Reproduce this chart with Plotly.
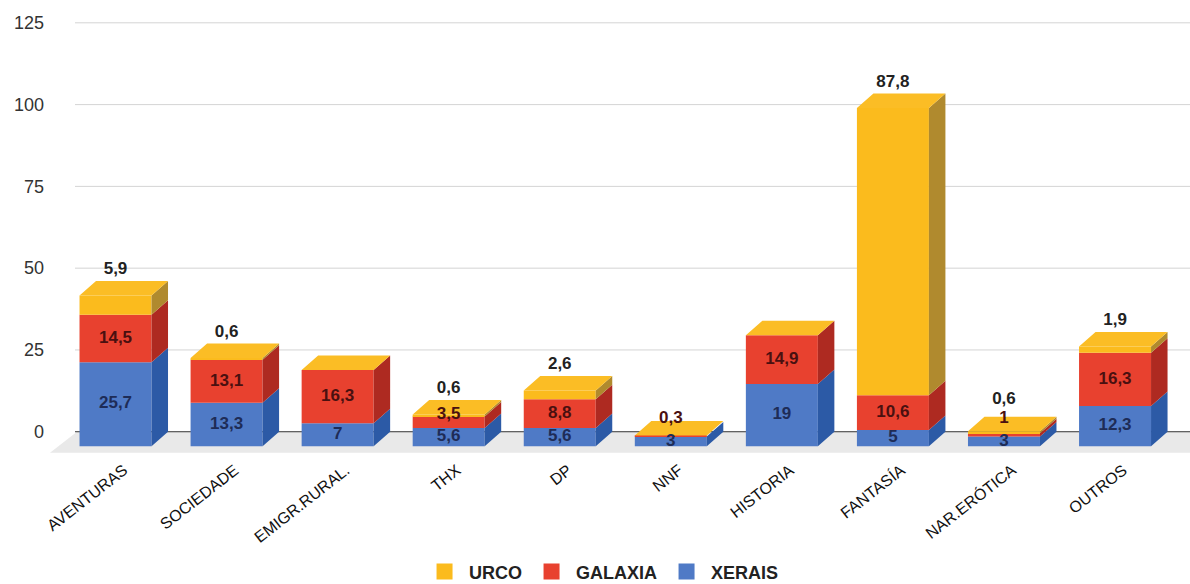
import plotly.graph_objects as go

# ---------------- data ----------------
categories = ["AVENTURAS", "SOCIEDADE", "EMIGR.RURAL.", "THX", "DP", "NNF",
              "HISTORIA", "FANTASÍA", "NAR.ERÓTICA", "OUTROS"]
xerais = [25.7, 13.3, 7, 5.6, 5.6, 3, 19, 5, 3, 12.3]
galaxia = [14.5, 13.1, 16.3, 3.5, 8.8, 0.3, 14.9, 10.6, 1, 16.3]
urco = [5.9, 0.6, 0, 0.6, 2.6, 0, 0, 87.8, 0.6, 1.9]
y_ticks = [0, 25, 50, 75, 100, 125]

# ---------------- style / geometry ----------------
FONT = "Liberation Sans, Arial, sans-serif"
W, H = 1190, 584
M_L, M_R, M_T, M_B = 45, 0, 13, 131
X_RANGE = [-0.635, 9.675]
Y_RANGE = [-6.5, 128]
px_x = (W - M_L - M_R) / (X_RANGE[1] - X_RANGE[0])
px_y = (H - M_T - M_B) / (Y_RANGE[1] - Y_RANGE[0])

BAR_W = 72 / px_x          # front face width
DX = 16.5 / px_x           # depth, horizontal
DY = 14.5 / px_y           # depth, vertical

series = [
    ("XERAIS", xerais, "#4f7ac6", "#2c5aa6", "#1e2c57"),
    ("GALAXIA", galaxia, "#e8412f", "#ae2a21", "#4a1010"),
    ("URCO", urco, "#fbbb1d", "#b08a2e", "#222222"),
]
TOP_COLOR = "#fbbd25"

fig = go.Figure()

xs = list(range(len(categories)))
cum = [0.0] * len(categories)
side_polys = []
bases_all = []
for name, vals, front, side, lab in series:
    bases = [c - DY for c in cum]
    fig.add_trace(go.Bar(
        x=xs, y=vals, base=bases, width=BAR_W, name=name,
        marker=dict(color=front, line=dict(width=0)),
        hoverinfo="skip", showlegend=False,
    ))
    px_, py_ = [], []
    for i, v in enumerate(vals):
        if v <= 0:
            continue
        b, t = cum[i], cum[i] + v
        xr = i + BAR_W / 2
        px_ += [xr, xr + DX, xr + DX, xr, xr, None]
        py_ += [b - DY, b, t, t - DY, b - DY, None]
    side_polys.append((px_, py_, side))
    bases_all.append(list(cum))
    cum = [c + v for c, v in zip(cum, vals)]
totals = cum

for px_, py_, col in side_polys:
    fig.add_trace(go.Scatter(
        x=px_, y=py_, mode="lines", fill="toself", fillcolor=col,
        line=dict(width=0, color=col), showlegend=False, hoverinfo="skip",
    ))

# top faces
tx, ty = [], []
for i, T in enumerate(totals):
    xl, xr = i - BAR_W / 2, i + BAR_W / 2
    tx += [xl, xl + DX, xr + DX, xr, xl, None]
    ty += [T - DY, T, T, T - DY, T - DY, None]
fig.add_trace(go.Scatter(
    x=tx, y=ty, mode="lines", fill="toself", fillcolor=TOP_COLOR,
    line=dict(width=0, color=TOP_COLOR), showlegend=False, hoverinfo="skip",
))

# ---------------- data labels ----------------
GAP = 22.5 / px_y
ABOVE = 11 / px_y
GAP_TOP = 19 / px_y


def fmt(v):
    return f"{v:g}".replace(".", ",")


label_pos = {k: ([], [], []) for k in range(3)}
for i in xs:
    prev = None
    for k, (name, vals, front, side, lab) in enumerate(series):
        v = vals[i]
        if v <= 0:
            continue
        if k < 2:
            yc = bases_all[k][i] + v / 2 - DY
        else:
            yc = totals[i] + ABOVE
        if prev is not None:
            yc = max(yc, prev + (GAP if k < 2 else GAP_TOP))
        prev = yc
        label_pos[k][0].append(i)
        label_pos[k][1].append(yc)
        label_pos[k][2].append(fmt(v))

for k, (name, vals, front, side, lab) in enumerate(series):
    lx, ly, lt = label_pos[k]
    fig.add_trace(go.Scatter(
        x=lx, y=ly, text=lt, mode="text", textposition="middle center",
        textfont=dict(family=FONT, size=17, color=lab, weight="bold"),
        showlegend=False, hoverinfo="skip",
    ))

# legend entries (square swatches)
for name, vals, front, side, lab in series:
    fig.add_trace(go.Scatter(
        x=[None], y=[None], mode="markers", name=name,
        marker=dict(symbol="square", size=16, color=front),
        showlegend=True, hoverinfo="skip",
    ))

# ---------------- floor & gridlines ----------------
shapes = []
FLOOR_DX = 27 / px_x
FLOOR_FRONT = -21 / px_y
grid_x0 = X_RANGE[0] + 30 / px_x
shapes.append(dict(
    type="path", xref="x", yref="y", layer="below",
    path=(f"M {grid_x0 + 2 / px_x},0 L {X_RANGE[1] + 0.5},0 "
          f"L {X_RANGE[1] + 0.5 - FLOOR_DX},{FLOOR_FRONT} "
          f"L {grid_x0 + 2 / px_x - FLOOR_DX},{FLOOR_FRONT} Z"),
    fillcolor="#e9e9e9", line=dict(width=0),
))
for v in y_ticks:
    shapes.append(dict(
        type="line", xref="x", yref="y", layer="below",
        x0=grid_x0, x1=X_RANGE[1], y0=v, y1=v,
        line=dict(color="#333333" if v == 0 else "#d4d4d4", width=1),
    ))

fig.update_layout(
    width=W, height=H,
    margin=dict(l=M_L, r=M_R, t=M_T, b=M_B, autoexpand=False),
    paper_bgcolor="white", plot_bgcolor="white",
    barmode="overlay",
    shapes=shapes,
    showlegend=True,
    legend=dict(
        orientation="h", x=0.4865, xanchor="center", y=-0.270, yanchor="middle",
        traceorder="reversed", itemsizing="trace",
        font=dict(family=FONT, size=18, color="#222222", weight="bold"),
        itemwidth=39,
    ),
    xaxis=dict(
        range=X_RANGE, showgrid=False, zeroline=False, showline=False,
        automargin=False,
        tickmode="array", tickvals=[i + DX / 2 for i in xs], ticktext=categories,
        tickangle=-38, ticks="", ticklabelstandoff=4,
        tickfont=dict(family=FONT, size=16, color="#111111"),
    ),
    yaxis=dict(
        range=Y_RANGE, showgrid=False, zeroline=False, showline=False,
        automargin=False,
        tickmode="array", tickvals=y_ticks, ticktext=[str(v) for v in y_ticks],
        ticks="",
        tickfont=dict(family=FONT, size=18, color="#333333"),
    ),
)

fig.write_html("out.html", config={"displayModeBar": False},
               post_script="document.body.style.margin='0';")
